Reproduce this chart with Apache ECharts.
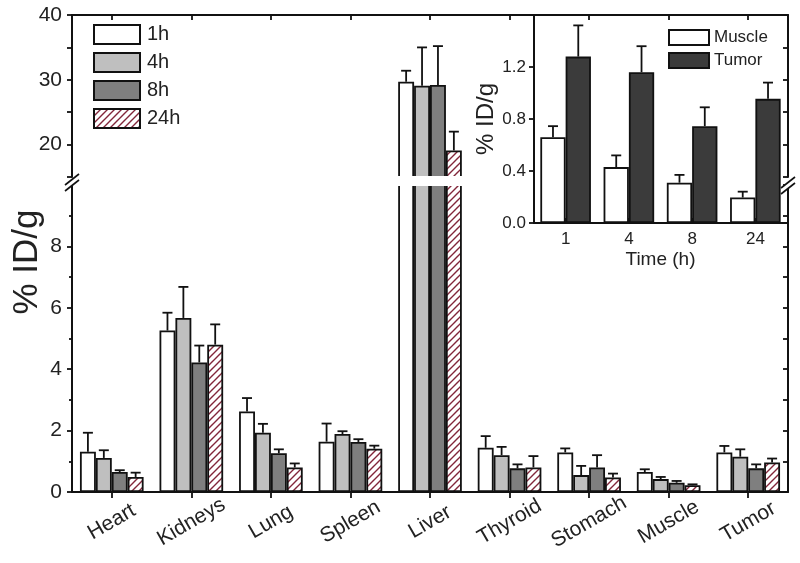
<!DOCTYPE html>
<html>
<head>
<meta charset="utf-8">
<script src="https://cdn.jsdelivr.net/npm/echarts@6/dist/echarts.min.js"></script>
<style>html,body{margin:0;padding:0;background:#fff;}#c{width:800px;height:563px;}</style>
</head>
<body>
<div id="c"></div>
<script>
// ---------- data ----------
const categories = ['Heart','Kidneys','Lung','Spleen','Liver','Thyroid','Stomach','Muscle','Tumor'];
const times = ['1h','4h','8h','24h'];
const h1     = [1.31, 5.26, 2.62, 1.64, 29.7, 1.44, 1.29, 0.65, 1.29];
const h1Err  = [0.62, 0.58, 0.44, 0.59, 1.7,  0.38, 0.13, 0.09, 0.21];
const h4     = [1.11, 5.67, 1.93, 1.89, 29.1, 1.20, 0.55, 0.42, 1.15];
const h4Err  = [0.25, 1.01, 0.29, 0.09, 5.9,  0.27, 0.30, 0.07, 0.24];
const h8     = [0.65, 4.22, 1.26, 1.63, 29.2, 0.77, 0.80, 0.30, 0.77];
const h8Err  = [0.06, 0.55, 0.13, 0.09, 6.0,  0.13, 0.40, 0.06, 0.13];
const h24    = [0.49, 4.80, 0.80, 1.41, 19.1, 0.80, 0.47, 0.22, 0.96];
const h24Err = [0.14, 0.66, 0.13, 0.10, 2.9,  0.37, 0.13, 0.03, 0.13];

const insetTimes = ['1','4','8','24'];
const insetNames = ['Muscle','Tumor'];
const muscle    = [0.66, 0.43, 0.31, 0.196];
const muscleErr = [0.085, 0.09, 0.06, 0.045];
const tumor     = [1.28, 1.16, 0.745, 0.955];
const tumorErr  = [0.24, 0.20, 0.145, 0.125];

const upperTickLabels = [20, 30, 40];
const lowerTickLabels = [0, 2, 4, 6, 8];
const insetTickLabels = [0.0, 0.4, 0.8, 1.2];

// ---------- styling / layout ----------
const FONT = 'Liberation Sans, Arial, sans-serif';
const INK = '#111';
const L = 72, R = 12, TOP = 15, UPPER_H = 162, LOWER_TOP = 185, BOTTOM_Y = 492;
const UPPER_BOTTOM = TOP + UPPER_H;
const W = 800;
const INSET_LEFT = 534;

function hatchCanvas() {
  const c = document.createElement('canvas');
  c.width = 7; c.height = 7;
  const ctx = c.getContext('2d');
  ctx.fillStyle = '#fff'; ctx.fillRect(0, 0, 7, 7);
  ctx.strokeStyle = '#82263a'; ctx.lineWidth = 1.4;
  ctx.beginPath();
  ctx.moveTo(-1, 8); ctx.lineTo(8, -1);
  ctx.moveTo(-1, 1); ctx.lineTo(1, -1);
  ctx.moveTo(6, 8); ctx.lineTo(8, 6);
  ctx.stroke();
  return c;
}
const hatch = { image: hatchCanvas(), repeat: 'repeat' };

const mainVals = [h1, h4, h8, h24];
const mainErrs = [h1Err, h4Err, h8Err, h24Err];
const mainColors = ['#ffffff', '#bfbfbf', '#7f7f7f', hatch];
const insetVals = [muscle, tumor];
const insetErrs = [muscleErr, tumorErr];
const insetColors = ['#ffffff', '#3b3b3b'];

function errRender(idx, n) {
  return function (params, api) {
    const ci = api.value(0), v = api.value(1), e = api.value(2);
    const band = api.size([1, 0])[0];
    const bw = band * 0.8 / n;
    const off = (idx - (n - 1) / 2) * bw;
    const p0 = api.coord([ci, v]);
    const p1 = api.coord([ci, v + e]);
    const x = p0[0] + off;
    const st = { stroke: INK, lineWidth: 1.8 };
    return {
      type: 'group',
      children: [
        { type: 'line', shape: { x1: x, y1: p0[1], x2: x, y2: p1[1] }, style: st },
        { type: 'line', shape: { x1: x - 5, y1: p1[1], x2: x + 5, y2: p1[1] }, style: st }
      ]
    };
  };
}

const series = [];
[0, 1].forEach(function (g) {
  times.forEach(function (t, i) {
    series.push({
      name: t, type: 'bar', xAxisIndex: g, yAxisIndex: g === 0 ? 0 : 2,
      data: mainVals[i], barGap: '0%', barCategoryGap: '20%', clip: true,
      itemStyle: { color: mainColors[i], borderColor: INK, borderWidth: 1.8 },
      emphasis: { disabled: true }, z: 2
    });
  });
  times.forEach(function (t, i) {
    series.push({
      type: 'custom', xAxisIndex: g, yAxisIndex: g === 0 ? 0 : 2, clip: true,
      renderItem: errRender(i, times.length),
      encode: { x: 0, y: 1 },
      data: mainVals[i].map(function (v, k) { return [k, v, mainErrs[i][k]]; }),
      z: 3, silent: true
    });
  });
});
insetNames.forEach(function (nm, i) {
  series.push({
    name: nm, type: 'bar', xAxisIndex: 2, yAxisIndex: 4,
    data: insetVals[i], barGap: '0%', barCategoryGap: '20%',
    itemStyle: { color: insetColors[i], borderColor: INK, borderWidth: 1.8 },
    emphasis: { disabled: true }, z: 2
  });
});
insetNames.forEach(function (nm, i) {
  series.push({
    type: 'custom', xAxisIndex: 2, yAxisIndex: 4, clip: true,
    renderItem: errRender(i, insetNames.length),
    encode: { x: 0, y: 1 },
    data: insetVals[i].map(function (v, k) { return [k, v, insetErrs[i][k]]; }),
    z: 3, silent: true
  });
});

const axLine = { show: true, lineStyle: { color: INK, width: 2 } };
const tickStyle = { color: INK, width: 1.8 };

function breakMark(x, gy) {
  return [
    { type: 'polygon', z: 101, shape: { points: [[x - 7, gy + 4], [x + 7, gy - 7], [x + 7, gy - 1], [x - 7, gy + 10]] }, style: { fill: '#fff' } },
    { type: 'line', z: 102, shape: { x1: x - 7, y1: gy + 4, x2: x + 7, y2: gy - 7 }, style: { stroke: INK, lineWidth: 1.6 } },
    { type: 'line', z: 102, shape: { x1: x - 7, y1: gy + 10, x2: x + 7, y2: gy - 1 }, style: { stroke: INK, lineWidth: 1.6 } }
  ];
}
const gapY = (UPPER_BOTTOM + LOWER_TOP) / 2;

const option = {
  animation: false,
  backgroundColor: '#fff',
  textStyle: { fontFamily: FONT, color: '#222' },
  grid: [
    { left: L, right: R, top: TOP, height: UPPER_H },
    { left: L, right: R, top: LOWER_TOP, height: BOTTOM_Y - LOWER_TOP },
    { left: INSET_LEFT, right: 13, top: TOP, height: 208 }
  ],
  legend: [
    {
      data: times, orient: 'vertical', left: 93, top: 24, padding: 0,
      itemWidth: 46, itemHeight: 19, itemGap: 7, icon: 'rect', selectedMode: false,
      textStyle: { fontSize: 20, color: '#222', fontFamily: FONT, padding: [0, 0, 0, 2] }
    },
    {
      data: insetNames, orient: 'vertical', left: 668, top: 29, padding: 0,
      itemWidth: 40, itemHeight: 15, itemGap: 6, icon: 'rect', selectedMode: false,
      textStyle: { fontSize: 17, color: '#222', fontFamily: FONT }
    }
  ],
  xAxis: [
    {
      gridIndex: 0, type: 'category', data: categories, position: 'top',
      axisLine: axLine,
      axisTick: { show: true, inside: true, alignWithLabel: true, length: 5, lineStyle: tickStyle },
      axisLabel: { show: false }, splitLine: { show: false }
    },
    {
      gridIndex: 1, type: 'category', data: categories, position: 'bottom',
      axisLine: axLine,
      axisTick: { show: true, inside: false, alignWithLabel: true, length: 6, lineStyle: tickStyle },
      axisLabel: { rotate: 30, align: 'center', verticalAlign: 'middle', margin: 30, fontSize: 21, color: '#222', interval: 0 },
      splitLine: { show: false }
    },
    {
      gridIndex: 2, type: 'category', data: insetTimes, position: 'bottom',
      axisLine: axLine,
      axisTick: { show: true, inside: true, alignWithLabel: true, length: 5, lineStyle: tickStyle },
      axisLabel: { fontSize: 17, color: '#222', margin: 8 },
      name: 'Time (h)', nameLocation: 'middle', nameGap: 27,
      nameTextStyle: { fontSize: 19, color: '#222' },
      splitLine: { show: false }
    }
  ],
  yAxis: [
    {
      gridIndex: 0, type: 'value', min: 15, max: 40, interval: 5, position: 'left',
      axisLine: axLine,
      axisTick: { show: true, inside: false, length: 5, lineStyle: tickStyle },
      axisLabel: { fontSize: 21, color: '#222', margin: 10,
        formatter: function (v) { return upperTickLabels.indexOf(v) >= 0 ? String(v) : ''; } },
      splitLine: { show: false }
    },
    {
      gridIndex: 0, type: 'value', min: 15, max: 40, interval: 5, position: 'right',
      axisLine: axLine,
      axisTick: { show: true, inside: true, length: 5, lineStyle: tickStyle },
      axisLabel: { show: false }, splitLine: { show: false }
    },
    {
      gridIndex: 1, type: 'value', min: 0, max: 10, interval: 2, position: 'left',
      axisLine: axLine,
      axisTick: { show: true, inside: false, length: 5, lineStyle: tickStyle },
      minorTick: { show: true, splitNumber: 2, length: 3, lineStyle: tickStyle },
      axisLabel: { fontSize: 21, color: '#222', margin: 10,
        formatter: function (v) { return lowerTickLabels.indexOf(v) >= 0 ? String(v) : ''; } },
      splitLine: { show: false }, minorSplitLine: { show: false }
    },
    {
      gridIndex: 1, type: 'value', min: 0, max: 10, interval: 1, position: 'right',
      axisLine: axLine,
      axisTick: { show: true, inside: true, length: 5, lineStyle: tickStyle },
      axisLabel: { show: false }, splitLine: { show: false }
    },
    {
      gridIndex: 2, type: 'value', min: 0, max: 1.6, interval: 0.4, position: 'left',
      axisLine: axLine,
      axisTick: { show: true, inside: false, length: 5, lineStyle: tickStyle },
      axisLabel: { fontSize: 17, color: '#222', margin: 8,
        formatter: function (v) {
          const hit = insetTickLabels.some(function (t) { return Math.abs(t - v) < 1e-6; });
          return hit ? v.toFixed(1) : '';
        } },
      name: '% ID/g', nameLocation: 'middle', nameGap: 34, nameRotate: 90,
      nameTextStyle: { fontSize: 24, color: '#222' },
      splitLine: { show: false }
    }
  ],
  series: series,
  graphic: [
    { type: 'rect', z: 100, shape: { x: L + 2, y: UPPER_BOTTOM - 1, width: INSET_LEFT - L - 30, height: LOWER_TOP - UPPER_BOTTOM + 2 }, style: { fill: '#fff' } },
    { type: 'text', z: 100, x: 27, y: 262, rotation: Math.PI / 2,
      style: { text: '% ID/g', font: '35px ' + FONT, fill: '#222', align: 'center', verticalAlign: 'middle' } }
  ].concat(breakMark(L, gapY), breakMark(W - R, gapY + 3))
};

const chart = echarts.init(document.getElementById('c'), null, { renderer: 'canvas' });
chart.setOption(option);
</script>
</body>
</html>
